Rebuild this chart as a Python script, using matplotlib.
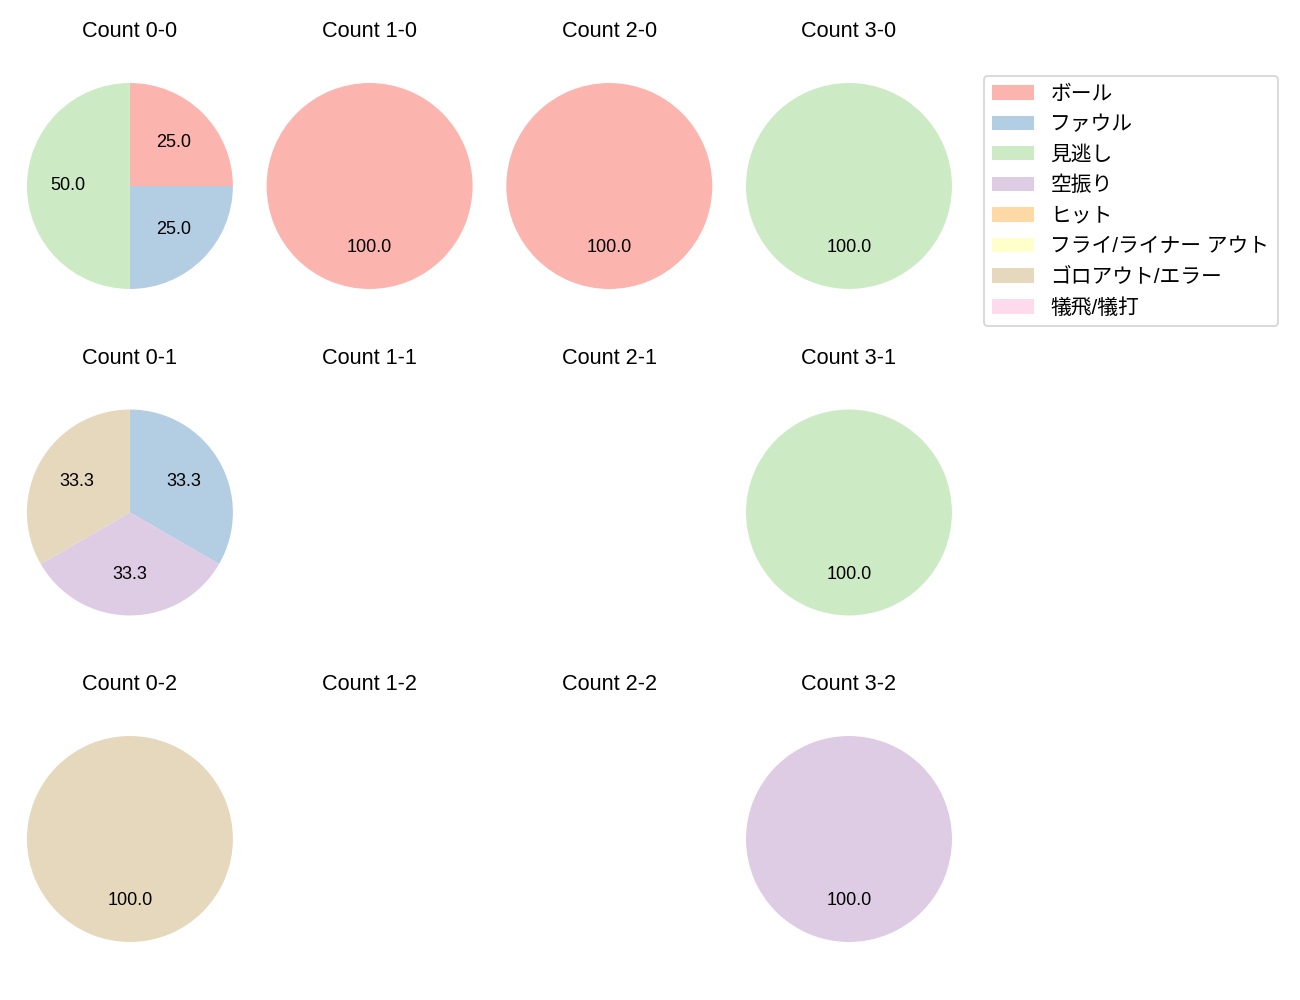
import matplotlib
matplotlib.use("Agg")
import matplotlib.pyplot as plt
from matplotlib.patches import Patch

plt.rcParams['font.family'] = ['Liberation Sans', 'Noto Sans CJK JP', 'DejaVu Sans']

# 結果カテゴリ
categories = ["ボール", "ファウル", "見逃し", "空振り", "ヒット",
              "フライ/ライナー アウト", "ゴロアウト/エラー", "犠飛/犠打"]
colors = plt.get_cmap("Pastel1").colors[:len(categories)]

balls = [0, 1, 2, 3]
strikes = [0, 1, 2]

# カウント別の件数（categories の順）
count_0_0 = [1, 1, 2, 0, 0, 0, 0, 0]
count_1_0 = [1, 0, 0, 0, 0, 0, 0, 0]
count_2_0 = [1, 0, 0, 0, 0, 0, 0, 0]
count_3_0 = [0, 0, 1, 0, 0, 0, 0, 0]
count_0_1 = [0, 1, 0, 1, 0, 0, 1, 0]
count_1_1 = [0, 0, 0, 0, 0, 0, 0, 0]
count_2_1 = [0, 0, 0, 0, 0, 0, 0, 0]
count_3_1 = [0, 0, 1, 0, 0, 0, 0, 0]
count_0_2 = [0, 0, 0, 0, 0, 0, 1, 0]
count_1_2 = [0, 0, 0, 0, 0, 0, 0, 0]
count_2_2 = [0, 0, 0, 0, 0, 0, 0, 0]
count_3_2 = [0, 0, 0, 1, 0, 0, 0, 0]

data = {
    (0, 0): count_0_0, (1, 0): count_1_0, (2, 0): count_2_0, (3, 0): count_3_0,
    (0, 1): count_0_1, (1, 1): count_1_1, (2, 1): count_2_1, (3, 1): count_3_1,
    (0, 2): count_0_2, (1, 2): count_1_2, (2, 2): count_2_2, (3, 2): count_3_2,
}

fig, axes = plt.subplots(3, 4, figsize=(10, 1000 / 130))
fig.subplots_adjust(left=0.0128, right=0.7402, bottom=0.023, top=0.952,
                    wspace=0.058, hspace=0.183)

for s in strikes:
    for b in balls:
        ax = axes[s, b]
        vals = data[(b, s)]
        idx = [i for i, v in enumerate(vals) if v > 0]
        if idx:
            ax.pie([vals[i] for i in idx], colors=[colors[i] for i in idx],
                   autopct="%.1f", startangle=90, counterclock=False)
        ax.axis("equal")
        ax.axis("off")
        ax.set_title(f"Count {b}-{s}")

handles = [Patch(facecolor=c, label=l) for c, l in zip(colors, categories)]
axes[0, 3].legend(handles=handles, loc="upper left", bbox_to_anchor=(1.05, 0.935),
                  fontsize=11.5, labelspacing=0.55)

fig.savefig("out.png", dpi=130, facecolor="white")
